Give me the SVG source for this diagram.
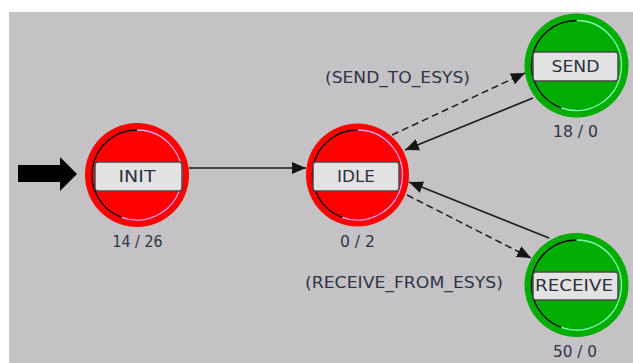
<svg xmlns="http://www.w3.org/2000/svg" width="633" height="363" viewBox="0 0 633 363">
  <defs>
    <marker id="head" markerUnits="userSpaceOnUse" markerWidth="15" markerHeight="13" refX="14" refY="6" orient="auto">
      <path d="M0,0 L14,6 L0,12 z" fill="#151515"/>
    </marker>
    <style>
      .bg { fill: #c4c2c4; }
      .red { fill: #ff0000; }
      .green { fill: #00ad00; }
      .ringdark { fill: none; stroke: #000; stroke-width: 1.4; }
      .ringlight-r { fill: none; stroke: #ff9cf0; stroke-width: 1.3; }
      .ringlight-g { fill: none; stroke: #7dffb0; stroke-width: 1.3; }
      .box { fill: #e2e2e2; stroke: #4a4a4a; stroke-width: 1.5; }
      .name { font-family: "DejaVu Sans", sans-serif; font-size: 15.5px; fill: #2c3040; text-anchor: middle; }
      .count { font-family: "DejaVu Sans", sans-serif; font-size: 15px; fill: #2e3446; text-anchor: middle; }
      .trans { font-family: "DejaVu Sans", sans-serif; font-size: 15.5px; fill: #2e3446; text-anchor: middle; }
      .solid { fill: none; stroke: #1a1a1a; stroke-width: 1.5; marker-end: url(#head); }
      .dashed { fill: none; stroke: #1a1a1a; stroke-width: 1.5; stroke-dasharray: 7 4; marker-end: url(#head); }
    </style>
  </defs>

  <!-- canvas -->
  <rect x="0" y="0" width="633" height="363" fill="#ffffff"/>
  <rect class="bg" x="9" y="12" width="624" height="351"/>

  <!-- initial-state pointer -->
  <polygon points="18,165 60,165 60,157 77,174 60,191 60,182 18,182" fill="#000"/>

  <!-- transitions -->
  <g id="connectors">
    <line class="solid" x1="189" y1="168" x2="306" y2="168"/>
    <line class="dashed" x1="392" y1="135" x2="525" y2="73"/>
    <line class="solid" x1="533" y1="98" x2="405" y2="150"/>
    <line class="solid" x1="549" y1="238" x2="409" y2="182"/>
    <line class="dashed" x1="407" y1="195" x2="531" y2="258"/>
    <text class="trans" x="397.5" y="83" textLength="145" lengthAdjust="spacingAndGlyphs">(SEND_TO_ESYS)</text>
    <text class="trans" x="404" y="288" textLength="198" lengthAdjust="spacingAndGlyphs">(RECEIVE_FROM_ESYS)</text>
  </g>

  <!-- INIT -->
  <g id="node-init">
    <circle class="red" cx="137" cy="175" r="52"/>
    <path class="ringlight-r" d="M137,130 A45,45 0 1 1 121.6,217.3"/>
    <path class="ringdark" d="M137,130 A45,45 0 0 0 121.6,217.3"/>
    <rect class="box" x="95" y="162" width="87" height="29" rx="3"/>
    <text class="name" x="137" y="182" textLength="37" lengthAdjust="spacingAndGlyphs">INIT</text>
    <text class="count" x="137.5" y="247" textLength="50" lengthAdjust="spacingAndGlyphs">14 / 26</text>
  </g>

  <!-- IDLE -->
  <g id="node-idle">
    <circle class="red" cx="357.5" cy="175" r="51.5"/>
    <path class="ringlight-r" d="M357.5,130 A45,45 0 1 1 342.1,217.3"/>
    <path class="ringdark" d="M357.5,130 A45,45 0 0 0 342.1,217.3"/>
    <rect class="box" x="313" y="162" width="86" height="29" rx="3"/>
    <text class="name" x="356" y="182" textLength="38" lengthAdjust="spacingAndGlyphs">IDLE</text>
    <text class="count" x="357.5" y="247" textLength="35" lengthAdjust="spacingAndGlyphs">0 / 2</text>
  </g>

  <!-- SEND -->
  <g id="node-send">
    <circle class="green" cx="576.5" cy="65.5" r="52"/>
    <path class="ringlight-g" d="M576.5,20.5 A45,45 0 1 1 561.1,107.8"/>
    <path class="ringdark" d="M576.5,20.5 A45,45 0 0 0 561.1,107.8"/>
    <rect class="box" x="533" y="52" width="85" height="29" rx="3"/>
    <text class="name" x="575.5" y="72" textLength="48" lengthAdjust="spacingAndGlyphs">SEND</text>
    <text class="count" x="575.5" y="137" textLength="45" lengthAdjust="spacingAndGlyphs">18 / 0</text>
  </g>

  <!-- RECEIVE -->
  <g id="node-receive">
    <circle class="green" cx="576.5" cy="285" r="52"/>
    <path class="ringlight-g" d="M576.5,240 A45,45 0 1 1 561.1,327.3"/>
    <path class="ringdark" d="M576.5,240 A45,45 0 0 0 561.1,327.3"/>
    <rect class="box" x="533" y="272" width="85" height="28" rx="3"/>
    <text class="name" x="574" y="291" textLength="78" lengthAdjust="spacingAndGlyphs">RECEIVE</text>
    <text class="count" x="575" y="357" textLength="44" lengthAdjust="spacingAndGlyphs">50 / 0</text>
  </g>
</svg>
